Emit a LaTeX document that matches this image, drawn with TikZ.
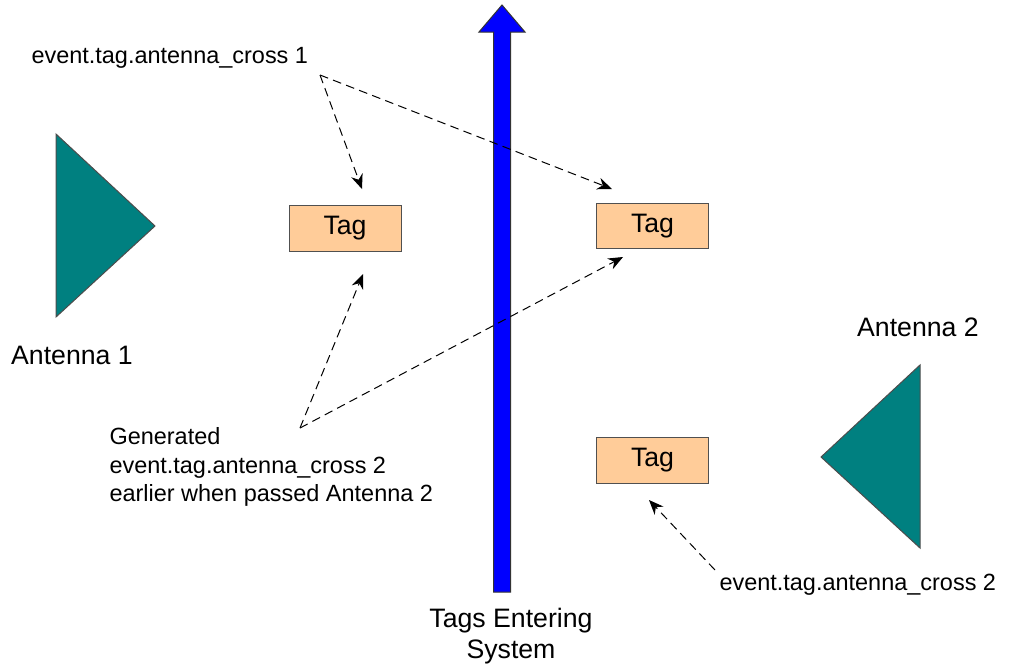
\documentclass[tikz,border=0pt]{standalone}
\usepackage{fontspec}
\setmainfont{Liberation Sans}
\usetikzlibrary{arrows.meta}
\definecolor{antTeal}{RGB}{0,128,128}
\definecolor{tagFill}{RGB}{255,204,153}
\definecolor{tagLine}{RGB}{80,80,80}
\tikzset{every picture/.style={line width=0.75pt}}
\tikzset{
	tagbox/.style={draw=tagLine, fill=tagFill, minimum width=84pt, minimum height=34pt, inner sep=0pt, font=\fontsize{20}{24}\selectfont},
	evtext/.style={inner sep=0pt, font=\fontsize{17.6}{21.4}\selectfont},
	bigtext/.style={inner sep=0pt, font=\fontsize{20}{23}\selectfont},
	evarrow/.style={dash pattern=on 6.5pt off 4pt, -{Stealth[length=11pt,width=9pt]}}}

\begin{document}
\begin{tikzpicture}[x=0.75pt,y=0.75pt,yscale=-1,xscale=1]
	\path (0,0) rectangle (1015,665); %set diagram size

	%Triangle [Antenna 1]
	\draw [draw=black!70, fill=antTeal] (56,134) -- (155,226) -- (56,317) -- cycle ;
	%Triangle [Antenna 2]
	\draw [draw=black!70, fill=antTeal] (920,365) -- (821,457) -- (920,548) -- cycle ;

	%Up Arrow
	\draw [draw=black!80, fill=blue] (493.5,592) -- (510.5,592) -- (510.5,32) -- (525,32) -- (502,5) -- (479,32) -- (493.5,32) -- cycle ;

	% Text Node
	\node [tagbox] (tagA) at (345,228.5) {Tag};
	% Text Node
	\node [tagbox] (tagB) at (652.5,226) {Tag};
	% Text Node
	\node [tagbox] (tagC) at (652.5,460.5) {Tag};

	% Text Node
	\node [bigtext] (antA) at (72,355) {Antenna 1};
	% Text Node
	\node [bigtext] (antB) at (918,327) {Antenna 2};
	% Text Node
	\node [bigtext, align=center] (tes) at (511,636) {Tags Entering\\System};

	% Text Node
	\node [evtext, anchor=west] (evA) at (31,58) {event.tag.antenna\_cross 1};
	% Text Node
	\node [evtext, anchor=west, align=left] (gen) at (109,467) {Generated\\event.tag.antenna\_cross 2\\earlier when passed Antenna 2};
	% Text Node
	\node [evtext, anchor=west] (evB) at (719,585) {event.tag.antenna\_cross 2};

	\coordinate (srcA) at (320,75);
	\coordinate (srcG) at (300,428);
	\coordinate (srcB) at (715,570);
	\coordinate (toA) at (362,189);
	\coordinate (toB) at (612,189);
	\coordinate (upA) at (363,274);
	\coordinate (upB) at (623,257);
	\coordinate (upC) at (649,500);

	\draw [evarrow] (srcA) -- (toA);
	\draw [evarrow] (srcA) -- (toB);
	\draw [evarrow] (srcG) -- (upA);
	\draw [evarrow] (srcG) -- (upB);
	\draw [evarrow] (srcB) -- (upC);

\end{tikzpicture}
\end{document}
